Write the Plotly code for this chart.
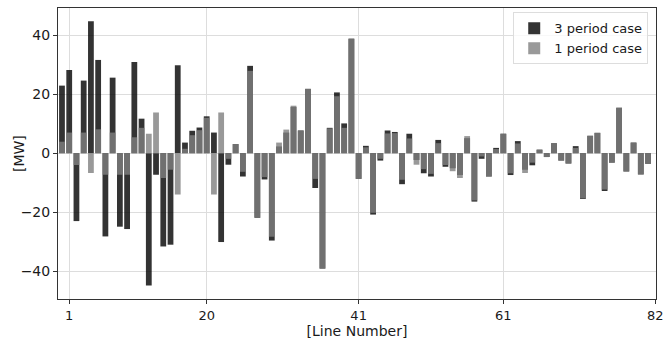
import plotly.graph_objects as go

line_numbers = list(range(1, 83))
tick_vals = [1, 20, 41, 61, 82]
tick_text = ["1", "20", "41", "61", "82"]

three_period = [22.9, 28.2, -23.0, 24.6, 44.7, 31.6, -28.2, 25.6, -24.9, -25.7,
                30.9, 11.7, -44.8, -7.3, -31.6, -31.0, 29.8, 3.6, 7.6, 8.7,
                12.5, 7.0, -30.1, -3.9, 3.1, -7.9, 29.6, -21.9, -8.9, -29.6,
                2.3, 7.0, 15.7, 7.7, 21.8, -11.8, -39.1, 8.6, 20.6, 10.1,
                38.8, -8.7, 2.5, -20.8, -2.5, 7.7, 7.2, -10.5, 6.6, -2.3,
                -6.8, -7.9, 4.5, -4.6, -5.1, -7.4, 5.1, -16.4, -1.9, -7.9,
                1.8, 6.6, -7.4, 4.1, -5.6, -4.1, 1.2, -1.3, 3.4, -2.5,
                -3.5, 2.4, -15.5, 5.9, 6.9, -12.8, -3.2, 15.4, -6.2, 3.6,
                -7.2, -3.6]

one_period = [3.9, 7.0, -4.0, 7.0, -6.7, 8.1, -7.3, 7.0, -7.3, -7.3,
              5.4, 8.6, 6.6, 13.8, -8.4, -5.6, -14.0, 1.5, 6.1, 7.8,
              12.0, -14.0, 13.8, -1.9, 3.1, -6.3, 27.9, -21.9, -8.1, -28.3,
              3.6, 8.0, 16.1, 7.7, 21.8, -8.7, -39.1, 8.4, 19.3, 8.6,
              38.8, -8.7, 2.0, -20.2, -1.9, 6.7, 6.8, -9.0, 5.0, -3.9,
              -5.4, -7.0, 3.4, -4.0, -6.1, -8.4, 5.8, -16.0, -1.1, -7.9,
              1.4, 6.6, -6.8, 3.3, -6.7, -3.2, 1.2, -1.3, 3.4, -2.5,
              -3.5, 1.8, -15.3, 5.9, 6.9, -12.3, -3.2, 15.4, -6.2, 3.6,
              -7.2, -3.6]

positions = [n - 1 for n in line_numbers]

ytick_font = dict(family="DejaVu Sans", size=14, color="#1a1a1a")
xtick_font = dict(family="DejaVu Sans", size=13, color="#1a1a1a")
title_font = dict(family="DejaVu Sans", size=14, color="#1a1a1a")

fig = go.Figure()
fig.add_trace(go.Bar(x=positions, y=three_period, name="3 period case",
                     marker=dict(color="rgba(0,0,0,0.8)", line=dict(width=0)),
                     width=0.8))
fig.add_trace(go.Bar(x=positions, y=one_period, name="1 period case",
                     marker=dict(color="rgba(128,128,128,0.8)", line=dict(width=0)),
                     width=0.8))

fig.update_layout(
    barmode="overlay",
    width=671, height=341,
    margin=dict(l=58, r=7, t=8, b=34),
    paper_bgcolor="white", plot_bgcolor="white",
    font=ytick_font,
    showlegend=True,
    legend=dict(x=0.987, xanchor="right", y=0.985, yanchor="top",
                bgcolor="rgba(255,255,255,0.8)", bordercolor="#dddddd", borderwidth=1,
                font=dict(family="DejaVu Sans", size=13, color="#1a1a1a"),
                itemsizing="constant", tracegroupgap=0),
    xaxis=dict(range=[-0.55, 82.1], tickmode="array", tickvals=tick_vals, ticktext=tick_text,
               showgrid=True, gridcolor="#dddddd", gridwidth=1, zeroline=False,
               showline=True, linecolor="#333333", linewidth=1, mirror=True,
               ticks="outside", ticklen=4, tickcolor="#333333",
               title=dict(text="[Line Number]", standoff=2, font=title_font),
               tickfont=xtick_font),
    yaxis=dict(range=[-49.4, 49.2], tickmode="array", tickvals=[-40, -20, 0, 20, 40],
               ticktext=["\u221240", "\u221220", "0", "20", "40"],
               showgrid=True, gridcolor="#dddddd", gridwidth=1, zeroline=False,
               showline=True, linecolor="#333333", linewidth=1, mirror=True,
               ticks="outside", ticklen=4, tickcolor="#333333",
               tickfont=ytick_font),
    annotations=[dict(text="[MW]", textangle=-90, xref="paper", yref="paper",
                      x=-0.066, y=0.5, xanchor="center", yanchor="middle",
                      showarrow=False, font=title_font)],
)

fig.write_html("out.html")
